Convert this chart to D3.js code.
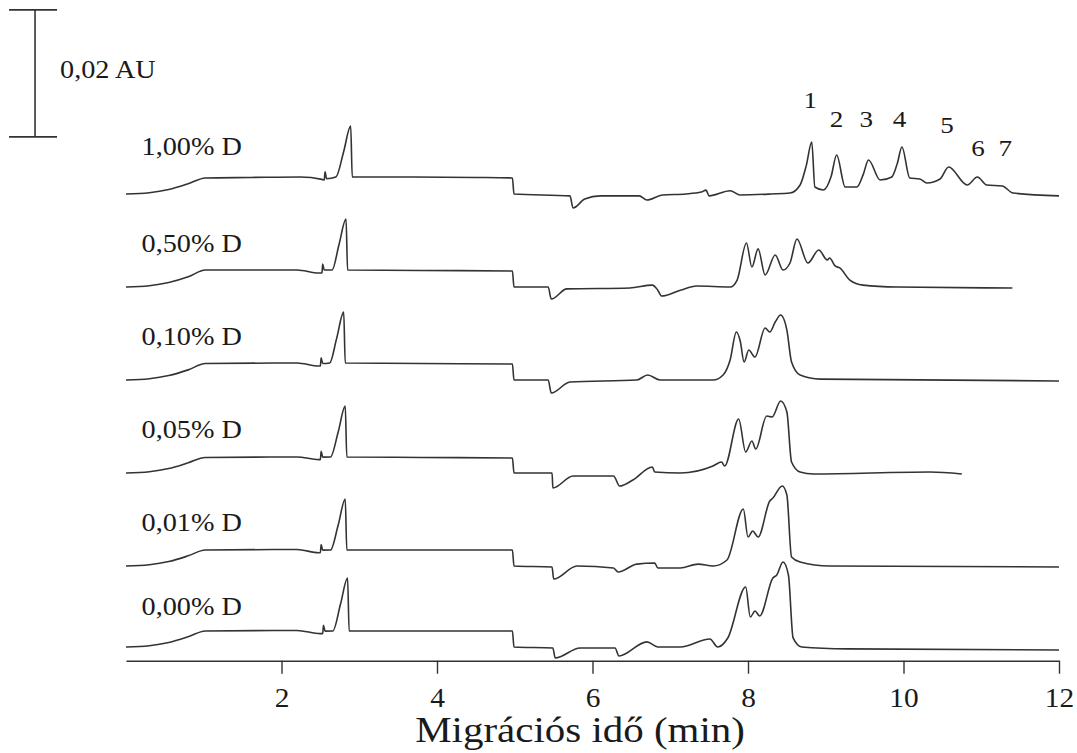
<!DOCTYPE html>
<html>
<head>
<meta charset="utf-8">
<script src="https://cdn.jsdelivr.net/npm/d3@7"></script>
<style>
  body { margin: 0; background: #fff; }
  svg text { font-family: "Liberation Serif", "Times New Roman", serif; fill: #1a1a1a; }
</style>
</head>
<body>
<svg class="chart" width="1077" height="753"></svg>
<script>
// ---------------------------------------------------------------
// electropherograms, stacked, time in min, signal in mAU
// ---------------------------------------------------------------
const width = 1077
const height = 753

// trace names (top to bottom)
const traceNames = ["1,00% D", "0,50% D", "0,10% D", "0,05% D", "0,01% D", "0,00% D"]

// vertical offset of every trace (mAU above the axis)
const traceOffsets = [73.5, 58.85, 44.2, 29.56, 14.91, 2.16]

// [time (min), signal (mAU)]
const trace100 = [
  [0, 0], [0.3, 0.2], [0.55, 0.7], [0.8, 1.6], [1.02, 2.52], [1.6, 2.6], [2.24, 2.68],
  [2.52, 2.3], [2.55, 2.2], [2.56, 3.5], [2.58, 2.4], [2.7, 2.68], [2.8, 6.7], [2.89, 10.71],
  [2.91, 2.68], [3.5, 2.68], [4.5, 2.6], [4.97, 2.52], [4.99, 0],
  [5.71, -0.3], [5.75, -2.2], [5.9, -0.8], [6.1, -0.3], [6.6, -0.3], [6.7, -0.95], [6.9, -0.15],
  [7.2, 0], [7.4, 0.3], [7.46, 0.6], [7.5, -0.3], [7.77, 0.5], [7.9, -0.15], [8.3, 0], [8.54, 0.15],
  [8.67, 1.42], [8.75, 4.5], [8.82, 8.19], [8.86, 1.1], [8.97, 0.63], [9.07, 2.8], [9.14, 6.14],
  [9.25, 1.1], [9.4, 1.1], [9.48, 3.0], [9.55, 5.35], [9.7, 2.2], [9.85, 2.68], [9.92, 4.8],
  [9.98, 7.4], [10.08, 2.52], [10.21, 2.36], [10.3, 1.73], [10.47, 2.36], [10.58, 4.25],
  [10.82, 1.42], [10.95, 2.68], [11.07, 1.42], [11.27, 1.26], [11.41, 0.15], [12.0, -0.3]
]

const trace050 = [
  [0, 0], [0.3, 0.2], [0.55, 0.7], [0.8, 1.6], [1.02, 2.68], [2.2, 2.68], [2.48, 2.2],
  [2.52, 2.2], [2.53, 3.6], [2.55, 2.68], [2.65, 2.68], [2.74, 6.7], [2.83, 10.7], [2.85, 2.68],
  [3.8, 2.6], [4.97, 2.52], [4.99, 0],
  [5.43, 0], [5.47, -1.9], [5.67, -0.3], [6.48, -0.15], [6.77, 0.3], [6.84, -0.5], [6.89, -1.42],
  [7.13, -0.5], [7.34, 0.15], [7.77, 0], [7.86, 1.1], [7.98, 6.93], [8.05, 3.15], [8.13, 6.0],
  [8.22, 1.9], [8.35, 5.04], [8.45, 2.68], [8.54, 3.78], [8.63, 7.56], [8.77, 3.78], [8.91, 5.83],
  [9.02, 4.25], [9.05, 4.57], [9.12, 3.31], [9.18, 3.0], [9.31, 1.1], [9.48, 0.3], [9.92, 0],
  [11.4, -0.15]
]

const trace010 = [
  [0, 0], [0.3, 0.2], [0.55, 0.7], [0.8, 1.6], [1.02, 2.6], [2.2, 2.68], [2.48, 2.2],
  [2.5, 2.2], [2.51, 3.5], [2.53, 2.6], [2.62, 2.68], [2.71, 6.6], [2.8, 10.7], [2.82, 2.68],
  [3.8, 2.6], [4.97, 2.52], [4.99, 0],
  [5.43, 0], [5.47, -2.05], [5.71, -0.3], [6.57, 0], [6.71, 0.8], [6.87, 0], [7.55, 0],
  [7.68, 0.8], [7.77, 3.15], [7.85, 7.56], [7.9, 6.14], [7.95, 2.84], [8.01, 4.72], [8.09, 3.62],
  [8.22, 8.19], [8.28, 7.56], [8.35, 9.13], [8.42, 10.24], [8.5, 7.87], [8.56, 2.84],
  [8.67, 0.8], [8.93, 0.15], [12, -0.15]
]

const trace005 = [
  [0, 0], [0.3, 0.2], [0.55, 0.7], [0.8, 1.6], [1.02, 2.45], [2.2, 2.52], [2.48, 2.1],
  [2.5, 2.1], [2.51, 3.4], [2.53, 2.5], [2.63, 2.52], [2.73, 6.5], [2.82, 10.55], [2.84, 2.52],
  [3.8, 2.45], [4.97, 2.36], [4.99, 0],
  [5.48, 0], [5.49, -2.36], [5.75, -0.47], [6.27, -0.47], [6.35, -2.05], [6.52, -1.1],
  [6.77, 0.95], [6.8, 0.15], [7.13, 0], [7.55, 1.1], [7.66, 1.73], [7.7, 1.1], [7.88, 8.5],
  [7.97, 3.31], [8.05, 5.04], [8.1, 3.78], [8.24, 8.98], [8.31, 8.82], [8.42, 11.34],
  [8.5, 9.6], [8.56, 1.73], [8.67, 0.15], [8.84, -0.15], [10.34, 0.15], [10.75, -0.15]
]

const trace001 = [
  [0, 0], [0.3, 0.2], [0.55, 0.7], [0.8, 1.6], [1.02, 2.52], [2.2, 2.6], [2.48, 2.1],
  [2.5, 2.1], [2.51, 3.4], [2.53, 2.5], [2.63, 2.52], [2.73, 6.5], [2.82, 10.55], [2.84, 2.52],
  [3.8, 2.52], [4.97, 2.52], [4.99, 0],
  [5.48, -0.15], [5.5, -2.05], [5.8, 0], [6.27, -0.3], [6.33, -0.95], [6.57, 0.3], [6.8, 0.47],
  [6.84, -0.3], [7.13, -0.3], [7.36, 0.3], [7.55, 0], [7.73, 0.95], [7.94, 8.98], [8.0, 4.57],
  [8.06, 5.51], [8.13, 4.57], [8.28, 10.24], [8.32, 10.71], [8.44, 12.6], [8.5, 11.18],
  [8.56, 1.42], [8.67, 0.63], [9.05, 0], [12, -0.15]
]

const trace000 = [
  [0, 0], [0.3, 0.2], [0.55, 0.7], [0.8, 1.6], [1.02, 2.52], [2.2, 2.6], [2.5, 2.1],
  [2.53, 2.1], [2.54, 3.4], [2.56, 2.5], [2.66, 2.52], [2.76, 6.8], [2.85, 10.86], [2.87, 2.52],
  [3.8, 2.52], [4.97, 2.52], [4.99, 0],
  [5.49, -0.15], [5.52, -1.73], [5.84, -0.15], [6.29, -0.15], [6.34, -1.42], [6.7, 0.8],
  [6.84, 0], [7.13, 0], [7.51, 1.26], [7.61, 0], [7.74, 1.42], [7.97, 9.45], [8.03, 4.72],
  [8.09, 5.67], [8.15, 4.88], [8.32, 10.86], [8.37, 11.34], [8.45, 13.39], [8.52, 11.34],
  [8.58, 1.42], [8.69, 0], [9.27, -0.3], [12, -0.47]
]

const traces = [trace100, trace050, trace010, trace005, trace001, trace000]

// numbered peaks on the top trace
const peakLabels = ["1", "2", "3", "4", "5", "6", "7"]
const peakTimes = [8.8, 9.14, 9.52, 9.95, 10.56, 10.96, 11.31]

// x axis
const xTicks = [2, 4, 6, 8, 10, 12]
const xTitle = "Migrációs idő (min)"

// scale bar: 0,02 AU = 20 mAU
const scaleBarMAU = 20
const scaleBarLabel = "0,02 AU"

//-----------------------------------------------------------------
// layout
const margin = {left: 126, right: 18, axisY: 660.7, top: 25.7}
const stretch = 1.13   // the original type is slightly wide
const ink = "#333"

const svg = d3.select("svg.chart")

const x = d3.scaleLinear()
  .domain([0, 12])
  .range([margin.left, width - margin.right])

const y = d3.scaleLinear()
  .domain([0, 100])
  .range([margin.axisY, margin.top])

const line = d3.line()
  .x(d => x(d[0]))
  .y(d => y(d[1]))
  .curve(d3.curveMonotoneX)

// traces
svg.append("g")
  .attr("class", "traces")
  .selectAll("path")
  .data(traces)
  .join("path")
    .attr("d", (d, i) => line(d.map(p => [p[0], p[1] + traceOffsets[i]])))
    .attr("fill", "none")
    .attr("stroke", ink)
    .attr("stroke-width", 1.6)
    .attr("stroke-linejoin", "round")

// trace names, a bit above each trace start
const nameLift = [6.1, 5.5, 5.5, 5.5, 5.5, 5.0]
svg.append("g")
  .selectAll("text")
  .data(traceNames)
  .join("text")
    .attr("transform", (d, i) => `translate(${x(0.2)}, ${y(traceOffsets[i] + nameLift[i])}) scale(${stretch},1)`)
    .attr("font-size", 25)
    .text(d => d)

// peak numbers
const peakLevel = [87.0, 84.0, 84.0, 84.0, 83.1, 79.5, 79.5]
svg.append("g")
  .selectAll("text")
  .data(peakLabels)
  .join("text")
    .attr("transform", (d, i) => `translate(${x(peakTimes[i])}, ${y(peakLevel[i])}) scale(${stretch},1)`)
    .attr("text-anchor", "middle")
    .attr("font-size", 24)
    .text(d => d)

// x axis
const xAxis = d3.axisBottom(x)
  .tickValues(xTicks)
  .tickSize(13)
  .tickSizeOuter(0)
  .tickPadding(13)
  .tickFormat(d3.format("d"))

const axisG = svg.append("g")
  .attr("class", "xAxis")
  .attr("transform", `translate(0, ${margin.axisY})`)
  .call(xAxis)

axisG.select(".domain").attr("stroke", ink).attr("stroke-width", 1.6)
axisG.selectAll(".tick line").attr("stroke", ink).attr("stroke-width", 1.4)
axisG.selectAll(".tick text")
  .attr("font-family", "'Liberation Serif', 'Times New Roman', serif")
  .attr("font-size", 28)
  .attr("fill", "#1a1a1a")
  .attr("transform", "scale(1.05,1)")

svg.append("text")
  .attr("transform", `translate(${x(5.84)}, 742) scale(1.17,1)`)
  .attr("text-anchor", "middle")
  .attr("font-size", 35)
  .text(xTitle)

// scale bar
const barX = x(-1.17)
const barLow = 82.5
const bar = svg.append("g").attr("stroke", ink).attr("stroke-width", 1.6)
bar.append("line")
  .attr("x1", barX).attr("x2", barX)
  .attr("y1", y(barLow)).attr("y2", y(barLow + scaleBarMAU))
bar.selectAll("line.cap")
  .data([barLow, barLow + scaleBarMAU])
  .join("line")
    .attr("class", "cap")
    .attr("x1", barX - 26).attr("x2", barX + 22)
    .attr("y1", d => y(d)).attr("y2", d => y(d))

svg.append("text")
  .attr("transform", `translate(${barX + 25}, 78) scale(${stretch},1)`)
  .attr("font-size", 25)
  .text(scaleBarLabel)
</script>
</body>
</html>
